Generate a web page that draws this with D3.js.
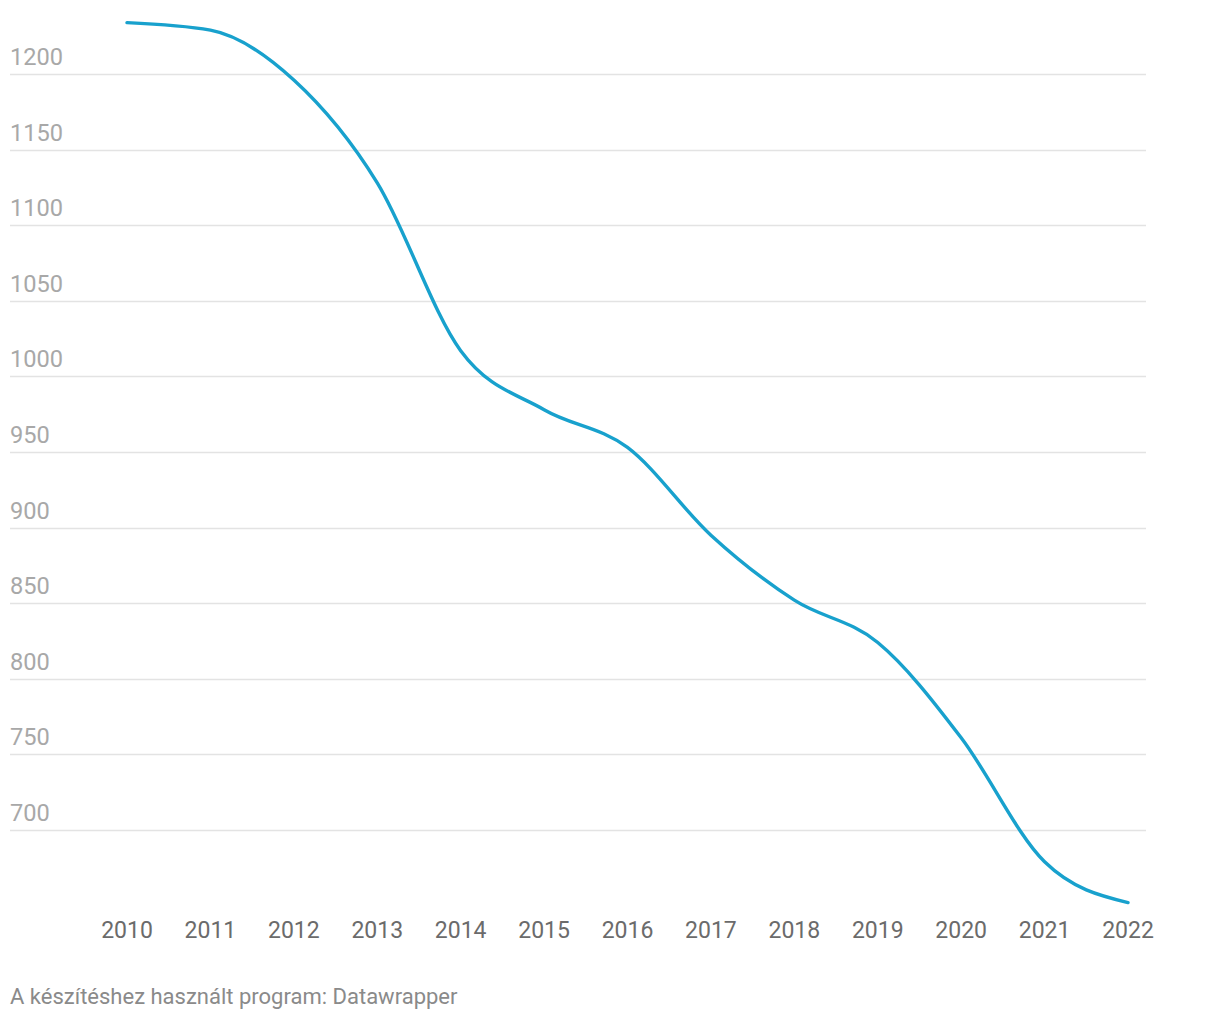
<!DOCTYPE html>
<html>
<head>
<meta charset="utf-8">
<script src="https://cdn.jsdelivr.net/npm/d3@7"></script>
<style>
  html, body { margin: 0; padding: 0; background: #fff; }
  svg { display: block; }
  text { font-family: Roboto, "Noto Sans", sans-serif; }
</style>
</head>
<body>
<svg id="chart" width="1220" height="1020"></svg>
<script>
const years = [2010, 2011, 2012, 2013, 2014, 2015, 2016, 2017, 2018, 2019, 2020, 2021, 2022];
const values = [1234, 1229, 1196, 1128, 1017, 978, 953, 895, 852, 824, 761, 679, 652];
const yTicks = [700, 750, 800, 850, 900, 950, 1000, 1050, 1100, 1150, 1200];
const footer = "A készítéshez használt program: Datawrapper";

const svg = d3.select("#chart");
const x = d3.scaleLinear().domain([2010, 2022]).range([127, 1128]);
const y = d3.scaleLinear().domain([700, 1200]).range([830, 74]);

// gridlines + y labels
const g = svg.append("g");
g.selectAll("line.grid").data(yTicks).join("line")
  .attr("class", "grid")
  .attr("x1", 10).attr("x2", 1146)
  .attr("y1", d => Math.round(y(d)) + 0.5).attr("y2", d => Math.round(y(d)) + 0.5)
  .attr("stroke", "#e3e3e3").attr("stroke-width", 1.5);
g.selectAll("text.ylab").data(yTicks).join("text")
  .attr("class", "ylab")
  .attr("x", 10).attr("y", d => y(d) - 9)
  .attr("fill", "#a8a8a8").attr("font-size", 23.6)
  .text(d => d);

// x labels
svg.append("g").selectAll("text").data(years).join("text")
  .attr("x", d => x(d)).attr("y", 938)
  .attr("text-anchor", "middle")
  .attr("fill", "#6b6b6b").attr("font-size", 23)
  .text(d => d);

// line
const line = d3.line()
  .x((d, i) => x(years[i]))
  .y(d => y(d))
  .curve(d3.curveMonotoneX);
svg.append("path").datum(values)
  .attr("d", line)
  .attr("fill", "none")
  .attr("stroke", "#18a1cd")
  .attr("stroke-width", 3.4)
  .attr("stroke-linecap", "round");

// footer
svg.append("text")
  .attr("x", 10).attr("y", 1004)
  .attr("fill", "#8a8a8a").attr("font-size", 22)
  .text(footer);
</script>
</body>
</html>
